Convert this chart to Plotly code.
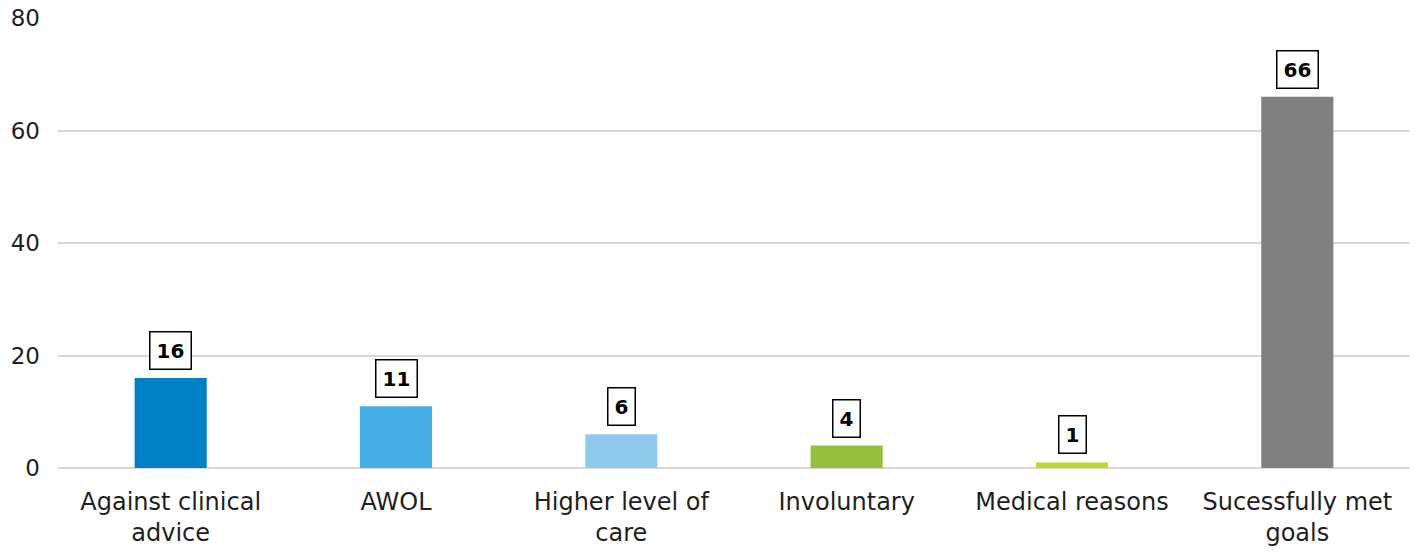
import plotly.graph_objects as go

categories = ["Against clinical<br>advice", "AWOL", "Higher level of<br>care", "Involuntary", "Medical reasons", "Sucessfully met<br>goals"]
values = [16, 11, 6, 4, 1, 66]
colors = ["#0081C6", "#46B0E6", "#8DCAEE", "#93C13E", "#BFD730", "#808080"]
y_ticks = [0, 20, 40, 60, 80]

FONT = "DejaVu Sans"

fig = go.Figure()
fig.add_trace(go.Bar(x=categories, y=values, marker=dict(color=colors, line=dict(width=0)), width=0.32, hoverinfo="skip"))

for c, v in zip(categories, values):
    fig.add_annotation(x=c, y=v, text="<b>%d</b>" % v, showarrow=False, yanchor="bottom", yshift=8,
                       font=dict(family=FONT, size=20, color="#000000"),
                       bordercolor="#000000", borderwidth=1.5, borderpad=6, bgcolor="#FFFFFF")

fig.update_layout(
    width=1419, height=552,
    margin=dict(l=58, r=9, t=18, b=84),
    paper_bgcolor="white", plot_bgcolor="white",
    showlegend=False,
    font=dict(family=FONT, size=24, color="#1f1f1f"),
    bargap=0.68,
)
fig.update_xaxes(showgrid=False, showline=False, ticks="", tickfont=dict(size=24), ticklabelstandoff=17,
                 automargin=False)
fig.update_yaxes(range=[0, 80], tickvals=y_ticks, showgrid=True, gridcolor="#D9D9D9", gridwidth=1.5,
                 zeroline=True, zerolinecolor="#D9D9D9", zerolinewidth=1.5, ticks="", tickfont=dict(size=23),
                 ticklabelstandoff=17, automargin=False)

fig.write_html("out.html")
